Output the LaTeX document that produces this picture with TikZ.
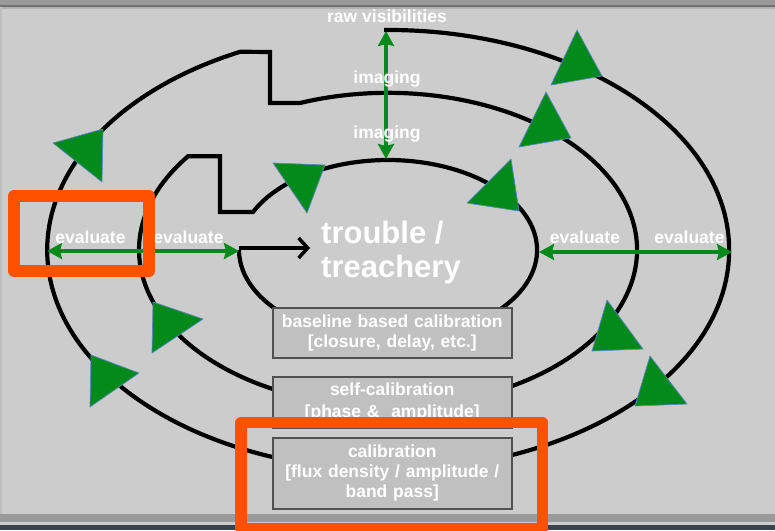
\documentclass[tikz,border=0pt]{standalone}
\usepackage{fontspec}
\setmainfont{Liberation Sans}
\usetikzlibrary{arrows.meta,shadows}

\definecolor{panel}{HTML}{CCCCCC}
\definecolor{barfill}{HTML}{9A9A9A}
\definecolor{barline}{HTML}{707070}
\definecolor{basefill}{HTML}{3A434D}
\definecolor{flowgreen}{HTML}{038A1B}
\definecolor{markedge}{HTML}{5A86BF}
\definecolor{boxfill}{HTML}{C0C0C0}
\definecolor{boxedge}{HTML}{505050}
\definecolor{hilite}{HTML}{FF5100}

\begin{document}
\begin{tikzpicture}[x=1pt,y=-1pt,
  ring/.style={draw=black,line width=4.2pt},
  flowmark/.style={fill=flowgreen,draw=markedge,line width=0.7pt,line join=round},
  probe/.style={draw=flowgreen,line width=4.5pt,
    {Stealth[length=15pt,width=16pt,inset=2pt]}-{Stealth[length=15pt,width=16pt,inset=2pt]}},
  lbl/.style={text=white,font=\bfseries\fontsize{17.5}{20}\selectfont,inner sep=0pt,anchor=base},
  stagebox/.style={draw=boxedge,fill=boxfill,line width=1.5pt,minimum width=239pt,
    text width=235pt,align=center,text=white,
    font=\bfseries\fontsize{17.5}{20}\selectfont,inner sep=0pt,anchor=north west,
    drop shadow={shadow xshift=1.2pt,shadow yshift=-1.2pt,fill=black,opacity=0.3}},
  focus/.style={draw=hilite,line width=12pt,line join=round}
]
\useasboundingbox (0,0) rectangle (775,530);

% slide background and frame bars
\fill[panel] (0,0) rectangle (775,530);
\fill[barfill] (0,0) rectangle (775,4.5);
\fill[barline] (0,4.5) rectangle (775,6.5);
\fill[black!30] (0,6.5) rectangle (775,8.5);
\fill[black!25] (0,6.5) rectangle (1.5,514);
\fill[barfill] (0,514) rectangle (775,522);
\fill[basefill] (0,525) rectangle (775,530);

% the spiral: outer ring, step into the middle ring, step into the inner ring
\coordinate (outerStart) at (384,30);
\draw[ring] (outerStart)
  arc[start angle=-90.7, end angle=244.3, x radius=341, y radius=220]
  -- (270,52) -- (270,103) -- (300,103)
  arc[start angle=249.3, end angle=576.6, x radius=249, y radius=157]
  -- (220,156.2) -- (220,212) -- (253,212)
  arc[start angle=205, end angle=540, x radius=149, y radius=90];

% calibration stages
\node[stagebox,minimum height=50pt] (baseline) at (272,307)
  {baseline based calibration\\{}[closure, delay, etc.]};
\node[stagebox,minimum height=51pt] (selfcal) at (272,376)
  {\vspace*{2pt}self-calibration\\{}[phase \&\ \ amplitude]};
\node[stagebox,minimum height=71pt] (fluxcal) at (272,437)
  {calibration\\{}[flux density / amplitude /\\ band pass]};

% direction markers along the spiral
\filldraw[flowmark] (577,30) -- (602,76) -- (551,85) -- cycle;
\filldraw[flowmark] (546,92) -- (571,138) -- (519,147) -- cycle;
\filldraw[flowmark] (511,159) -- (519,211) -- (467,203) -- cycle;
\filldraw[flowmark] (273,163) -- (325,165) -- (307,213) -- cycle;
\filldraw[flowmark] (103,129) -- (102,182) -- (53,143) -- cycle;
\filldraw[flowmark] (153,302) -- (203,319) -- (152,353) -- cycle;
\filldraw[flowmark] (91,355) -- (139,373) -- (90,407) -- cycle;
\filldraw[flowmark] (607,300) -- (643,349) -- (592,351) -- cycle;
\filldraw[flowmark] (650,356) -- (687,404) -- (635,406) -- cycle;

% imaging / evaluate links between the rings
\coordinate (topOuter) at (386,31);
\coordinate (topInner) at (386,159);
\coordinate (leftOuter) at (47,251);
\coordinate (leftInner) at (239,251);
\coordinate (rightInner) at (539,252);
\coordinate (rightOuter) at (732,252);
\draw[probe] (topOuter) -- (topInner);
\draw[probe] (leftOuter) -- (leftInner);
\draw[probe] (rightInner) -- (rightOuter);

\node[lbl] (rawvis) at (387,22.5) {raw visibilities};
\node[lbl] (imgOuter) at (387,83) {imaging};
\node[lbl] (imgInner) at (387,138) {imaging};
\node[lbl] (evalA) at (90.5,243.5) {evaluate};
\node[lbl] (evalB) at (188.5,243.5) {evaluate};
\node[lbl] (evalC) at (585,243.5) {evaluate};
\node[lbl] (evalD) at (689.5,243.5) {evaluate};

% centre of the spiral
\node[text=white,font=\bfseries\fontsize{31}{34}\selectfont,align=left,
  inner sep=0pt,anchor=north west] (trouble) at (321,220.5) {trouble /\\ treachery};
\coordinate (innerEnd) at (239,248);
\draw[line width=3.5pt,-{Straight Barb[length=9pt,width=20pt]},shorten >=11pt]
  (innerEnd) -- (innerEnd -| trouble.west);

% highlight frames
\draw[focus] (14,196) rectangle (149,271);
\draw[focus,line width=11.5pt] (241,422.5) rectangle (542.5,528.5);
\end{tikzpicture}
\end{document}
